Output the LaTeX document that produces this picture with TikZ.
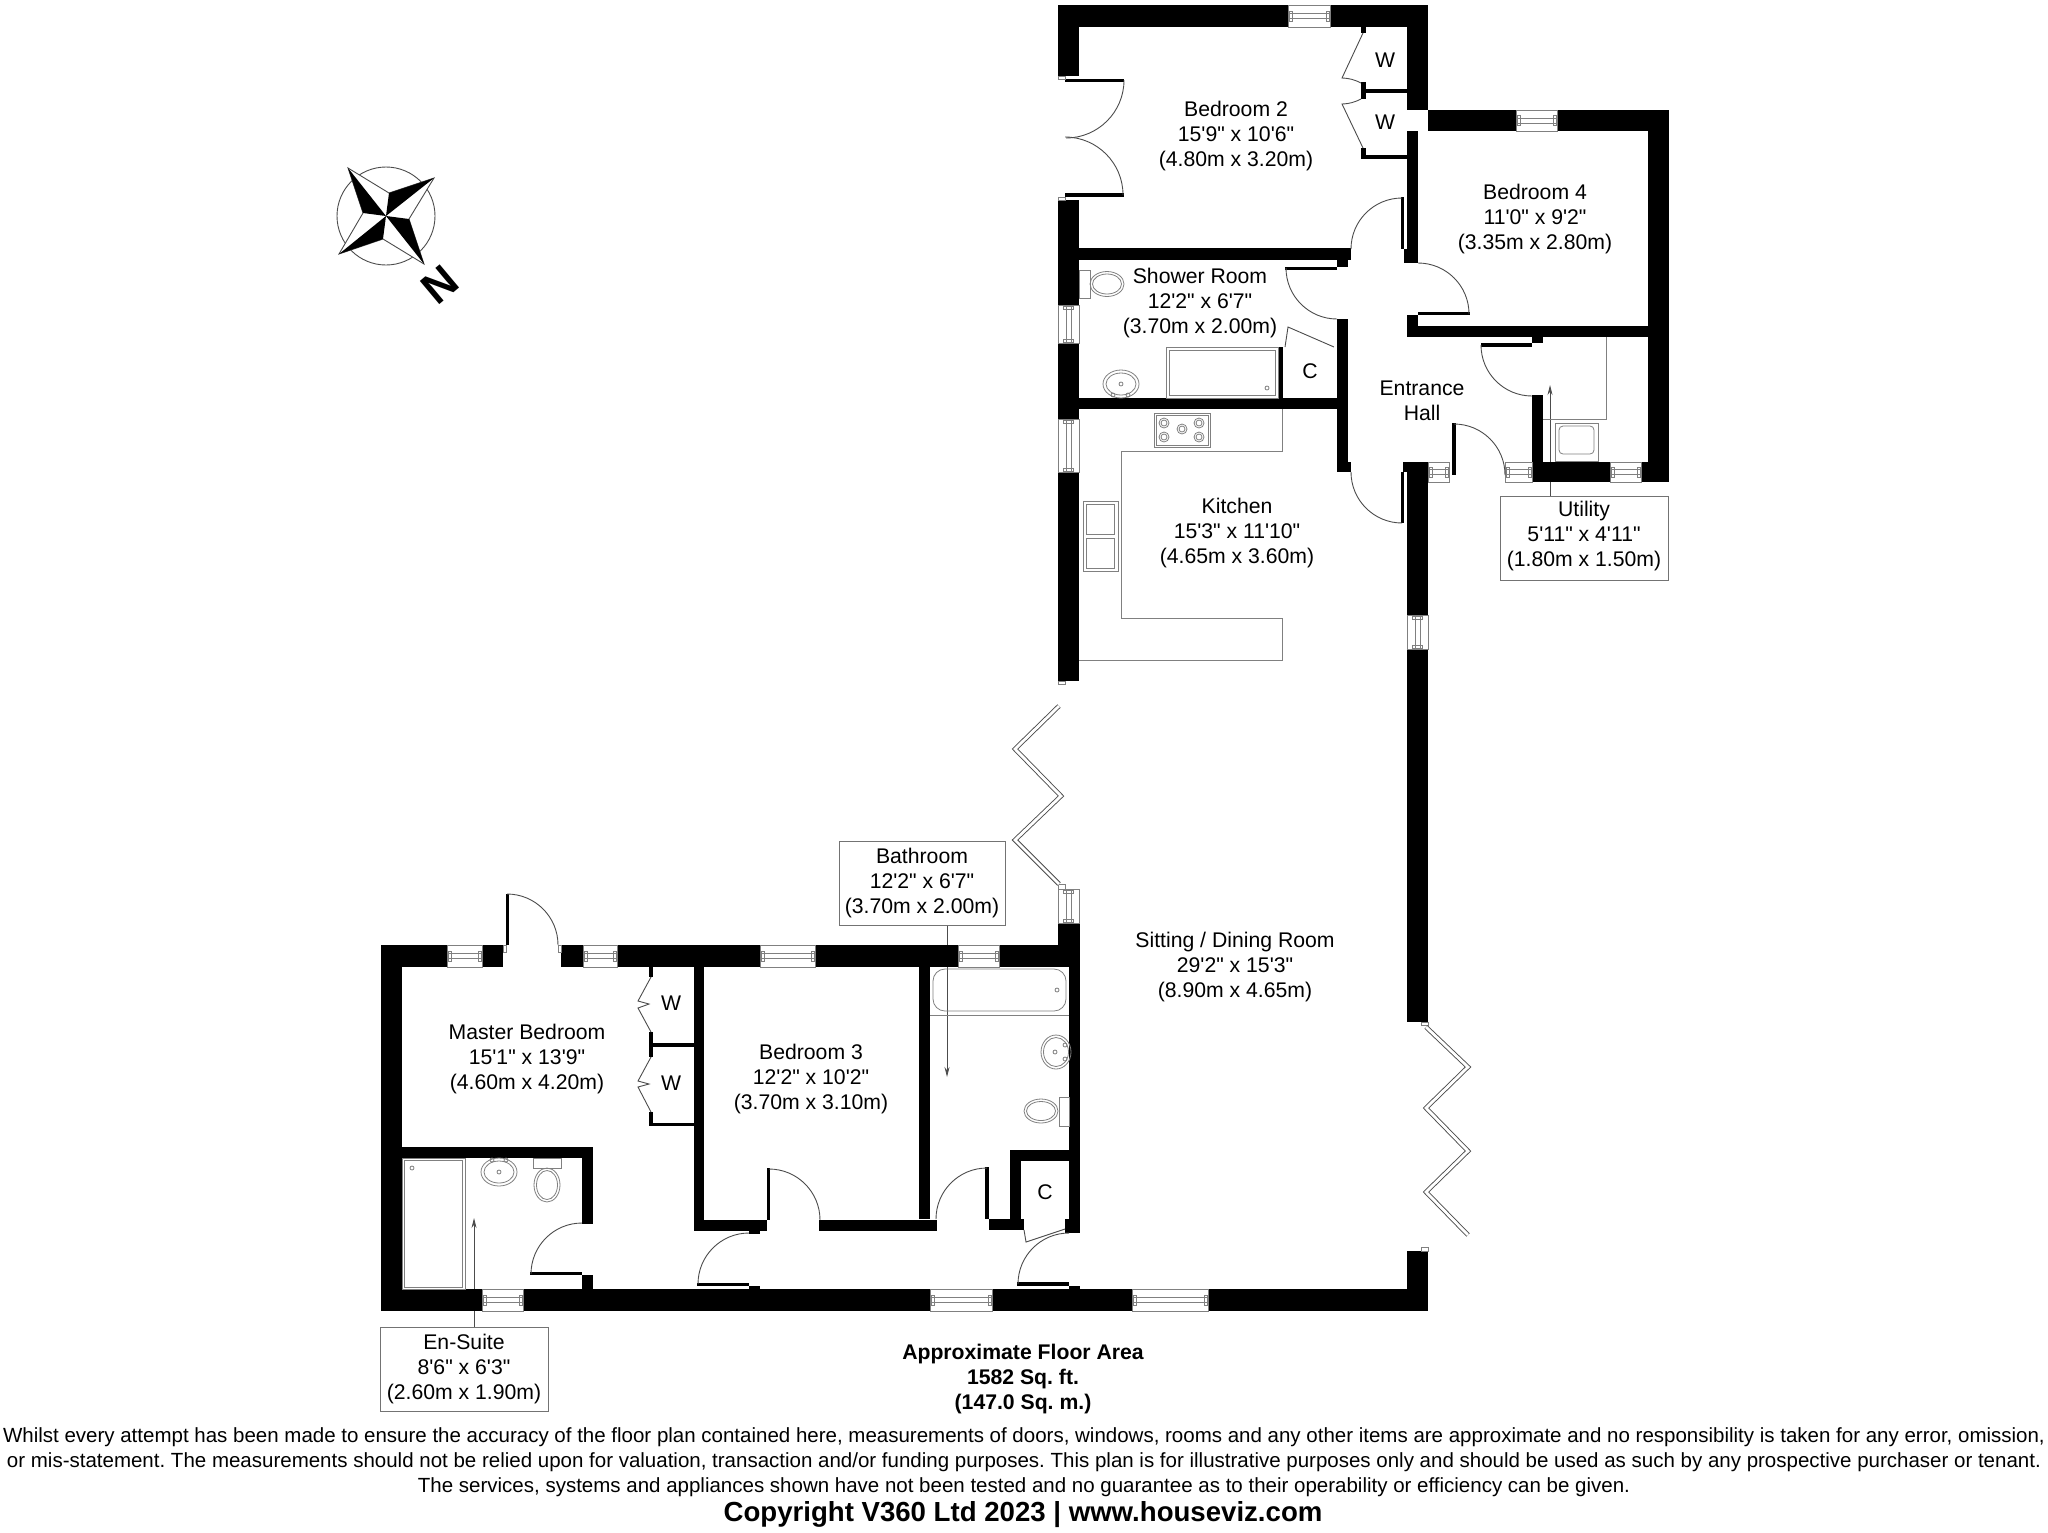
\documentclass[tikz,border=0pt]{standalone}
\usepackage{fontspec}
\usetikzlibrary{arrows.meta}
\setmainfont{Liberation Sans}[Ligatures=TeXOff]
\frenchspacing
\tikzset{
  fine/.style={draw=black!70,line width=0.45pt},
  pale/.style={draw=black!50,line width=0.4pt},
  pointer/.style={draw=black!70,line width=0.45pt,-{Stealth[length=5pt,width=2.5pt]}},
  room/.style={align=center,inner sep=0pt,font=\fontsize{10.6}{12.6}\selectfont},
  callout/.style={room,draw=black!55,line width=0.5pt,fill=white,minimum width=#1,minimum height=42pt},
  bifold/.style={draw=black!70,line width=0.45pt,double,double distance=1.4pt}
}
\begin{document}
\begin{tikzpicture}[x=0.5pt,y=-0.5pt]
  \useasboundingbox (0,0) rectangle (2048,1532);
  \node[callout=84pt] (utilitybox) at (1584,538) {};
  \node[room] (utility) at (1584,536) {Utility\\5'11" x 4'11"\\(1.80m x 1.50m)};
  \node[callout=83pt] (bathroombox) at (922,883) {Bathroom\\12'2" x 6'7"\\(3.70m x 2.00m)};
  \node[callout=84pt] (ensuitebox) at (464,1369) {En-Suite\\8'6" x 6'3"\\(2.60m x 1.90m)};
  \coordinate (utilitytip) at (1550,385);
  \coordinate (bathroomtip) at (947,1077);
  \coordinate (ensuitetip) at (474,1218);
  \draw[pointer] (utilitybox.north -| utilitytip) -- (utilitytip);
  \draw[pointer] (bathroombox.south -| bathroomtip) -- (bathroomtip);
  \draw[pointer] (ensuitebox.north -| ensuitetip) -- (ensuitetip);
  \foreach \xa/\ya/\xb/\yb in {1058/5/1428/27,1058/27/1079/76,1058/200/1079/681,1407/27/1428/110,
    1428/110/1669/131,1407/131/1418/263,1404/249/1418/263,1648/131/1669/482,1407/326/1669/337,
    1407/315/1418/326,1058/248/1351/260,1337/260/1348/267,1337/319/1348/472,1337/462/1351/472,
    1058/398/1348/409,1278/347/1283/398,1532/337/1543/343,1532/395/1543/482,1532/462/1669/482,
    1403/462/1428/472,1407/472/1428/1022,1401/197/1404/249,1285/267/1337/270,1418/312/1470/315,
    1481/343/1532/347,1452/423/1456/475,1401/472/1404/523,1065/79/1124/82,1065/193/1124/197,
    1361/27/1366/33,1361/82/1366/99,1361/89/1407/93,1361/148/1366/159,1361/155/1407/159,
    381/945/503/967,561/945/1080/967,381/967/402/1311,1058/924/1080/945,1069/967/1080/1233,
    1010/1150/1080/1161,1010/1161/1021/1219,989/1219/1024/1230,1065/1219/1069/1233,919/967/930/1219,
    694/967/704/1231,694/1220/767/1231,819/1220/937/1231,749/1231/760/1234,767/1168/770/1220,
    985/1167/989/1219,506/894/509/945,381/1147/593/1158,582/1158/593/1224,582/1275/593/1289,
    530/1272/582/1275,697/1283/749/1286,749/1286/760/1289,1017/1282/1069/1286,1069/1286/1080/1289,
    381/1289/1428/1311,1407/1251/1428/1289,649/967/653/977,649/1032/653/1057,649/1043/694/1047,
    649/1112/653/1126,649/1123/694/1126}
    \fill (\xa,\ya) rectangle (\xb,\yb);
  \foreach \xa/\ya/\xb/\yb in {1288/5/1330/27,1516/110/1557/131,1610/462/1641/482,447/945/482/967,
    583/945/617/967,760/945/815/967,958/945/999/967,482/1289/523/1311,930/1289/992/1311,
    1132/1289/1208/1311,1428/462/1449/482,1505/462/1532/482} {
    \draw[pale,fill=white] (\xa,\ya) rectangle (\xb,\yb);
    \draw[pale] (\xa,{(\ya+\yb)/2-2.5}) -- (\xb,{(\ya+\yb)/2-2.5});
    \draw[pale] (\xa,{(\ya+\yb)/2+2.5}) -- (\xb,{(\ya+\yb)/2+2.5});
    \draw[pale] ({\xa+1},{(\ya+\yb)/2-5}) rectangle ({\xa+4},{(\ya+\yb)/2+5});
    \draw[pale] ({\xb-4},{(\ya+\yb)/2-5}) rectangle ({\xb-1},{(\ya+\yb)/2+5});
  }
  \foreach \xa/\ya/\xb/\yb in {1058/305/1079/343,1058/419/1079/472,1407/615/1428/649,1058/889/1079/923} {
    \draw[pale,fill=white] (\xa,\ya) rectangle (\xb,\yb);
    \draw[pale] ({(\xa+\xb)/2-2.5},\ya) -- ({(\xa+\xb)/2-2.5},\yb);
    \draw[pale] ({(\xa+\xb)/2+2.5},\ya) -- ({(\xa+\xb)/2+2.5},\yb);
    \draw[pale] ({(\xa+\xb)/2-5},{\ya+1}) rectangle ({(\xa+\xb)/2+5},{\ya+4});
    \draw[pale] ({(\xa+\xb)/2-5},{\yb-4}) rectangle ({(\xa+\xb)/2+5},{\yb-1});
  }
  \foreach \xa/\ya/\xb/\yb in {1058/76/1065/79,1058/197/1065/200,1058/681/1065/684,1058/884/1065/889,
    1421/1022/1428/1025,1421/1247/1428/1251,503/945/506/952,558/945/561/952}
    \draw[pale] (\xa,\ya) rectangle (\xb,\yb);
  \foreach \cx/\cy/\sa/\ea in {1402/249/180/270,1337/268/180/90,1418/314/270/360,1532/345/180/90,
    1454/475/270/360,1402/472/180/90,507/945/270/360,582/1274/270/180,749/1284/270/180,
    769/1220/270/360,987/1219/270/180,1069/1284/270/180}
    \draw[fine] ({\cx+51*cos(\sa)},{\cy+51*sin(\sa)}) arc[start angle=\sa,end angle=\ea,radius=51];
  \draw[fine] (1124,80) arc[start angle=0,end angle=90,radius=58];
  \draw[fine] (1065,137) arc[start angle=-90,end angle=0,radius=58];
  \draw[fine] (1363,33)--(1342,78) to[bend left=12] (1361,83);
  \draw[fine] (1361,99) to[bend left=12] (1342,104)--(1363,148);
  \draw[fine] (651,977)--(638,1001)--(649,1004)--(638,1008)--(651,1032);
  \draw[fine] (651,1057)--(638,1081)--(649,1084)--(638,1087)--(651,1112);
  \draw[fine] (1285,347)--(1288,327)--(1334,347);
  \draw[fine] (1024,1230)--(1026,1242)--(1065,1229);
  \draw[bifold] (1059,706)--(1015,749)--(1061,796)--(1015,840)--(1059,884);
  \draw[bifold] (1426,1027)--(1468,1067)--(1426,1108)--(1468,1151)--(1426,1192)--(1468,1235);
  % shower room
  \draw[pale] (1079,270) rectangle (1090,298);
  \draw[pale] (1107,284) ellipse[x radius=17,y radius=12.5];
  \draw[pale] (1107,284) ellipse[x radius=14.5,y radius=10];
  \draw[pale] (1121,384) ellipse[x radius=18,y radius=14];
  \draw[pale] (1121,384) ellipse[x radius=15,y radius=11];
  \foreach \px/\py in {1121/384,1113/395,1128/395} \draw[pale] (\px,\py) circle[radius=2];
  \draw[pale] (1166,347) rectangle (1278,398);
  \draw[pale] (1169,350) rectangle (1275,395);
  \draw[pale] (1267,388) circle[radius=2];
  % kitchen and utility
  \draw[pale] (1282,409)--(1282,451)--(1121,451)--(1121,618)--(1282,618)--(1282,660)--(1079,660);
  \draw[pale] (1154,413) rectangle (1210,447);
  \draw[pale] (1156,415) rectangle (1208,445);
  \foreach \px/\py in {1164/423,1199/423,1164/437,1199/437,1182/429} {
    \draw[pale] (\px,\py) circle[radius=5];
    \draw[pale] (\px,\py) circle[radius=3];
  }
  \draw[pale] (1083,501) rectangle (1118,571);
  \draw[pale] (1086,504) rectangle (1114,534);
  \draw[pale] (1086,538) rectangle (1114,568);
  \draw[pale] (1606,337)--(1606,419)--(1543,419);
  \draw[pale] (1555,423) rectangle (1598,461);
  \draw[pale,rounded corners=2pt] (1559,426) rectangle (1594,454);
  % bathroom
  \draw[pale] (930,1015)--(1069,1015);
  \draw[pale,rounded corners=6pt] (933,969) rectangle (1066,1011);
  \draw[pale] (1057,990) circle[radius=2];
  \draw[pale] (1056,1052) ellipse[x radius=15,y radius=17];
  \draw[pale] (1056,1052) ellipse[x radius=12.5,y radius=14.5];
  \foreach \px/\py in {1065/1045,1065/1059,1055/1052} \draw[pale] (\px,\py) circle[radius=2];
  \draw[pale] (1059,1097) rectangle (1069,1126);
  \draw[pale] (1041,1111) ellipse[x radius=17,y radius=12];
  \draw[pale] (1041,1111) ellipse[x radius=14.5,y radius=9.5];
  % en-suite
  \draw[pale] (402,1158) rectangle (465,1289);
  \draw[pale] (404,1160) rectangle (462,1287);
  \draw[pale] (412,1168) circle[radius=2];
  \draw[pale] (499,1172) ellipse[x radius=18,y radius=14];
  \draw[pale] (499,1172) ellipse[x radius=15,y radius=11];
  \foreach \px/\py in {492/1160,506/1160,499/1172} \draw[pale] (\px,\py) circle[radius=2];
  \draw[pale] (533,1158) rectangle (561,1168);
  \draw[pale] (547,1185) ellipse[x radius=13,y radius=17];
  \draw[pale] (547,1185) ellipse[x radius=10.5,y radius=14.5];
  % compass
  \draw[fine] (386,216) circle[radius=49];
  \draw[fine,fill=white] (348,168)--(389,193)--(434,178)--(409,219)--(424,264)--(383,239)--(339,254)--(363,213)--cycle;
  \fill (386,216)--(348,168)--(363,213)--cycle;
  \fill (386,216)--(434,178)--(389,193)--cycle;
  \fill (386,216)--(424,264)--(409,219)--cycle;
  \fill (386,216)--(339,254)--(383,239)--cycle;
  \node[rotate=40,font=\fontsize{22}{22}\bfseries\selectfont] (north) at (440,285) {N};
  % rooms
  \node[room] (bedroomtwo) at (1236,136) {Bedroom 2\\15'9" x 10'6"\\(4.80m x 3.20m)};
  \node[room] (bedroomfour) at (1535,219) {Bedroom 4\\11'0" x 9'2"\\(3.35m x 2.80m)};
  \node[room] (showerroom) at (1200,303) {Shower Room\\12'2" x 6'7"\\(3.70m x 2.00m)};
  \node[room] (entrancehall) at (1422,401) {Entrance\\Hall};
  \node[room] (kitchen) at (1237,533) {Kitchen\\15'3" x 11'10"\\(4.65m x 3.60m)};
  \node[room] (master) at (527,1059) {Master Bedroom\\15'1" x 13'9"\\(4.60m x 4.20m)};
  \node[room] (bedroomthree) at (811,1079) {Bedroom 3\\12'2" x 10'2"\\(3.70m x 3.10m)};
  \node[room] (sitting) at (1235,967) {Sitting / Dining Room\\29'2" x 15'3"\\(8.90m x 4.65m)};
  \node[room] (wone) at (1385,60) {W};
  \node[room] (wtwo) at (1385,122) {W};
  \node[room] (wthree) at (671,1003) {W};
  \node[room] (wfour) at (671,1083) {W};
  \node[room] (cone) at (1310,371) {C};
  \node[room] (ctwo) at (1045,1192) {C};
  \node[room,font=\fontsize{10.6}{12.6}\bfseries\selectfont] (floorarea) at (1023,1379) {Approximate Floor Area\\1582 Sq. ft.\\(147.0 Sq. m.)};
  \node[room,font=\fontsize{10.25}{12.6}\selectfont] (disclaimer) at (1024,1462) {Whilst every attempt has been made to ensure the accuracy of the floor plan contained here, measurements of doors, windows, rooms and any other items are approximate and no responsibility is taken for any error, omission,\\or mis-statement. The measurements should not be relied upon for valuation, transaction and/or funding purposes. This plan is for illustrative purposes only and should be used as such by any prospective purchaser or tenant.\\The services, systems and appliances shown have not been tested and no guarantee as to their operability or efficiency can be given.};
  \node[room,font=\fontsize{13.8}{16}\bfseries\selectfont] (copyright) at (1023,1515) {Copyright V360 Ltd 2023 | www.houseviz.com};
\end{tikzpicture}
\end{document}
